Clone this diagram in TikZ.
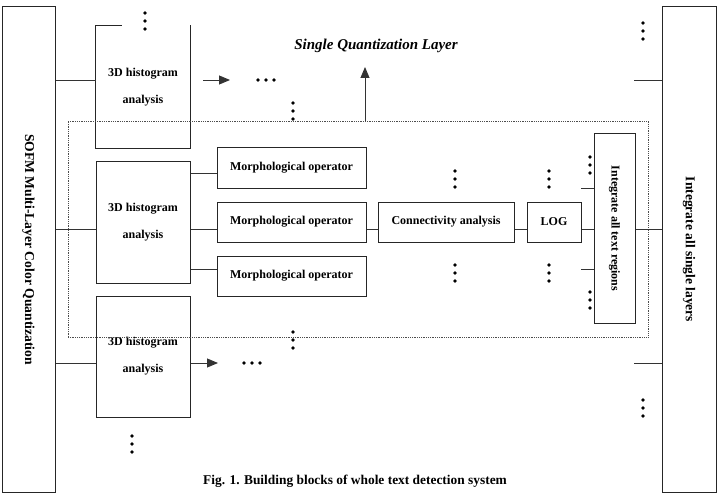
\documentclass[tikz,border=0pt]{standalone}
\usepackage{fontspec}
\setmainfont{Liberation Serif}
\usetikzlibrary{arrows.meta}
\newcommand{\vdotz}[2]{\foreach \k in {0,1,2} \fill ({#1},{#2+8*\k}) circle (1.9pt);}
\newcommand{\hdotz}[2]{\foreach \k in {0,1,2} \fill ({#1+8*\k},{#2}) circle (1.9pt);}

\begin{document}
\begin{tikzpicture}[x=1pt,y=-1pt,line width=0.9pt]
\tikzset{blk/.style={draw=black!85,line width=1pt,font=\fontsize{12}{27}\selectfont\bfseries,align=center,inner sep=0pt},
 lnk/.style={draw=black!80,line width=0.9pt},
 tip/.style={-{Triangle[length=11pt,width=9pt]}}}
\useasboundingbox (0,0) rectangle (722,497);
\node[blk,minimum width=485pt,minimum height=53pt,rotate=-90,font=\fontsize{13.6}{15}\selectfont\bfseries] (sofm) at (28.5,249.5) {SOFM Multi-Layer Color Quantization};
\node[blk,minimum width=485pt,minimum height=54pt,rotate=-90,font=\fontsize{13.5}{15}\selectfont\bfseries] (layers) at (689,249.5) {Integrate all single layers};
\node[blk,draw=none,minimum width=94pt,minimum height=122pt] (h1) at (143,87) {3D histogram\\analysis};
\draw[black!85,line width=1pt] ([xshift=26pt]h1.north west) -- (h1.north west) -- (h1.south west) -- (h1.south east) -- (h1.north east);
\node[blk,minimum width=94pt,minimum height=121pt] (h2) at (143,222.5) {3D histogram\\analysis};
\node[blk,minimum width=94pt,minimum height=121pt] (h3) at (143,356.5) {3D histogram\\analysis};
\node[blk,minimum width=149pt,minimum height=40pt] (m1) at (291.5,168) {Morphological operator};
\node[blk,minimum width=149pt,minimum height=40pt] (m2) at (291.5,222) {Morphological operator};
\node[blk,minimum width=149pt,minimum height=40pt] (m3) at (291.5,276) {Morphological operator};
\node[blk,minimum width=136pt,minimum height=40pt] (conn) at (446,222) {Connectivity analysis};
\node[blk,minimum width=54pt,minimum height=40pt] (log) at (554,222) {LOG};
\node[blk,minimum width=189pt,minimum height=41pt,rotate=-90] (merge) at (614.5,228.5) {Integrate all text regions};
\node[draw=black!70,densely dotted,line width=0.8pt,minimum width=580pt,minimum height=216pt,inner sep=0pt] (frame) at (358,229) {};
\node[font=\fontsize{15}{17}\selectfont\bfseries\itshape] (title) at (376,46) {Single Quantization Layer};
\node[font=\fontsize{13.4}{15}\selectfont\bfseries] (cap) at (355,481) {Fig. 1. Building blocks of whole text detection system};
\coordinate (ya) at (0,80);
\coordinate (yb) at (0,173);
\coordinate (yc) at (0,229);
\coordinate (yd) at (0,269);
\coordinate (ye) at (0,363);
\coordinate (s1) at (581,188);
\coordinate (s2) at (581,269);
\coordinate (s3) at (634,80);
\coordinate (s4) at (634,363);
\coordinate (a1) at (203,80);
\coordinate (a2) at (230,80);
\coordinate (a3) at (218,363);
\coordinate (up) at (365,67);
\draw[lnk] (sofm.north |- ya) -- (h1.west |- ya);
\draw[lnk] (sofm.north |- yc) -- (h2.west |- yc);
\draw[lnk] (sofm.north |- ye) -- (h3.west |- ye);
\draw[lnk] (h2.east |- yb) -- (m1.west |- yb);
\draw[lnk] (h2.east |- yc) -- (m2.west |- yc);
\draw[lnk] (h2.east |- yd) -- (m3.west |- yd);
\draw[lnk] (m2.east |- yc) -- (conn.west |- yc) (conn.east |- yc) -- (log.west |- yc) (log.east |- yc) -- (merge.south |- yc) (merge.north |- yc) -- (layers.south |- yc);
\draw[lnk] (s1) -- (merge.south |- s1);
\draw[lnk] (s2) -- (merge.south |- s2);
\draw[lnk] (s3) -- (layers.south |- s3);
\draw[lnk] (s4) -- (layers.south |- s4);
\draw[lnk,tip] (a1) -- (a2);
\draw[lnk,tip] (h3.east |- ye) -- (a3);
\draw[lnk,tip] (frame.north -| up) -- (up);
\vdotz{145}{13}
\vdotz{293}{103}
\vdotz{293}{332}
\vdotz{455}{171}
\vdotz{549}{171}
\vdotz{590}{157}
\vdotz{455}{265}
\vdotz{549}{265}
\vdotz{590}{292}
\vdotz{643}{23}
\vdotz{643}{400}
\vdotz{132}{436}
\hdotz{258}{80}
\hdotz{244}{363}
\end{tikzpicture}
\end{document}
